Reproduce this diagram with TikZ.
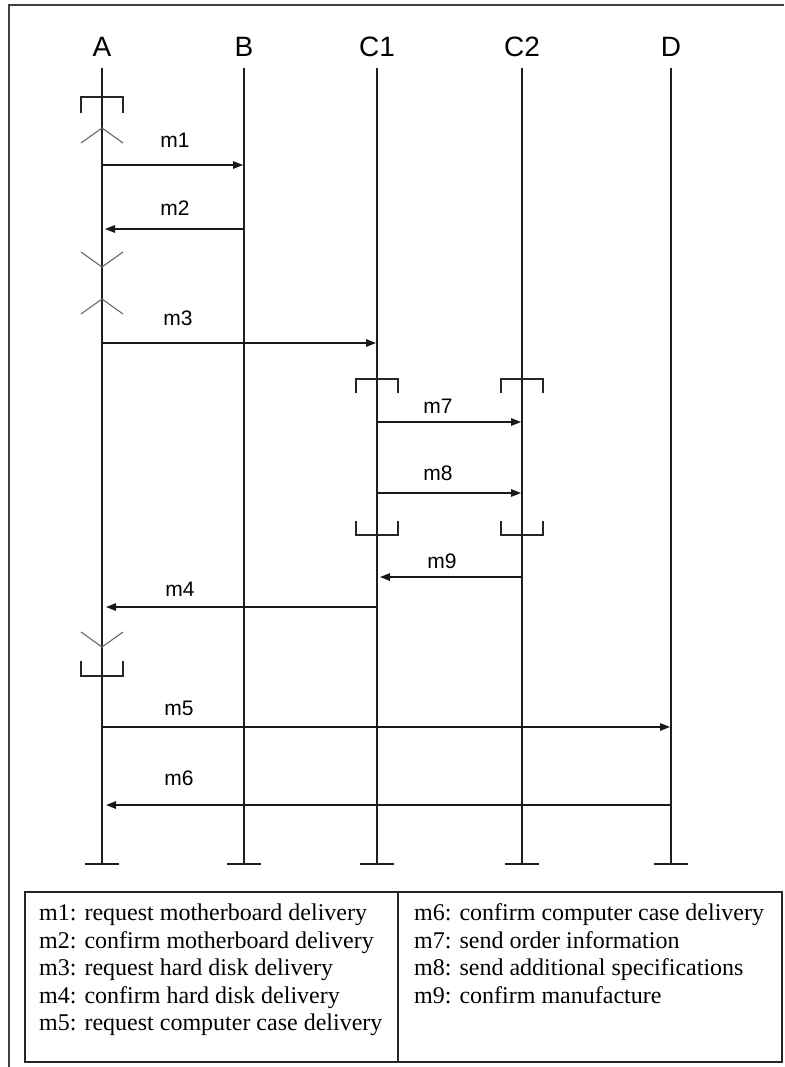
\documentclass[tikz,border=0pt]{standalone}
\usepackage{fontspec}
\setmainfont{Liberation Serif}
\newfontfamily\labfont{Liberation Sans}
\usetikzlibrary{arrows.meta}
\begin{document}
\begin{tikzpicture}[x=1pt,y=-1pt,
  frame/.style={line width=2pt, black!75},
  life/.style={line width=1.6pt, black!88},
  msg/.style={line width=1.4pt, black!90, -{Triangle[length=10pt,width=7.5pt]}, shorten >=1pt},
  head/.style={font=\labfont\fontsize{28}{30}\selectfont, inner sep=0pt},
  mlab/.style={font=\labfont\fontsize{21}{24}\selectfont, inner sep=0pt},
  bracket/.style={line width=1.3pt, black!85},
  chevron/.style={line width=1.1pt, black!60},
  legtext/.style={font=\fontsize{24}{26}\selectfont, inner sep=0pt, anchor=base west},
  legbox/.style={line width=1.6pt, black!85}
]
\useasboundingbox (0,0) rectangle (784,1067);
\draw[frame] (9,1067) -- (9,5) -- (784,5);

% lifelines
\foreach \n/\x/\lab in {A/102/A, B/244/B, C1/377/C1, C2/522/C2, D/671/D}{
  \node[head] (h\n) at (\x,47) {\lab};
  \coordinate (\n-top) at (\x,68);
  \coordinate (\n-bot) at (\x,864);
  \draw[life] (\n-top) -- (\n-bot);
  \draw[life] ([xshift=-17pt]\n-bot) -- ([xshift=17pt]\n-bot);
}

% message end points
\coordinate (A1) at (102,165);  \coordinate (B1) at (244,165);
\coordinate (A2) at (102,229);  \coordinate (B2) at (244,229);
\coordinate (A3) at (102,343);  \coordinate (C13) at (377,343);
\coordinate (C17) at (377,422); \coordinate (C27) at (522,422);
\coordinate (C18) at (377,493); \coordinate (C28) at (522,493);
\coordinate (C19) at (377,577); \coordinate (C29) at (522,577);
\coordinate (A4) at (102,607);  \coordinate (C14) at (377,607);
\coordinate (A5) at (102,727);  \coordinate (D5) at (671,727);
\coordinate (A6) at (102,805);  \coordinate (D6) at (671,805);

\draw[msg] (A1) -- (B1);
\draw[msg, shorten >=3pt] (B2) -- (A2);
\draw[msg] (A3) -- (C13);
\draw[msg] (C17) -- (C27);
\draw[msg] (C18) -- (C28);
\draw[msg, shorten >=3pt] (C29) -- (C19);
\draw[msg, shorten >=4pt] (C14) -- (A4);
\draw[msg] (A5) -- (D5);
\draw[msg, shorten >=4pt] (D6) -- (A6);

\node[mlab] (l1) at (175,140) {m1};
\node[mlab] (l2) at (175,208) {m2};
\node[mlab] (l3) at (178,318) {m3};
\node[mlab] (l7) at (438,406) {m7};
\node[mlab] (l8) at (438,473) {m8};
\node[mlab] (l9) at (442,561) {m9};
\node[mlab] (l4) at (180,589) {m4};
\node[mlab] (l5) at (179,708) {m5};
\node[mlab] (l6) at (179,778) {m6};

% activation brackets and chevrons on A
\draw[bracket] (81,113) -- (81,97) -- (123,97) -- (123,113);
\draw[chevron] (81,143) -- (102,128) -- (123,143);
\draw[chevron] (81,252) -- (102,267) -- (123,252);
\draw[chevron] (81,314) -- (102,299) -- (123,314);
\draw[chevron] (81,632) -- (102,647) -- (123,632);
\draw[bracket] (81,661) -- (81,676) -- (123,676) -- (123,661);

% brackets on C1 and C2
\draw[bracket] (356,393) -- (356,379) -- (398,379) -- (398,393);
\draw[bracket] (501,393) -- (501,379) -- (543,379) -- (543,393);
\draw[bracket] (356,521) -- (356,535) -- (398,535) -- (398,521);
\draw[bracket] (501,521) -- (501,535) -- (543,535) -- (543,521);

% legend
\draw[legbox] (25,892) rectangle (782,1062);
\draw[legbox] (398,892) -- (398,1062);
\node[legtext] (t1) at (39,920) {m1: request motherboard delivery};
\node[legtext] (t2) at (39,948) {m2: confirm motherboard delivery};
\node[legtext] (t3) at (39,975) {m3: request hard disk delivery};
\node[legtext] (t4) at (39,1003) {m4: confirm hard disk delivery};
\node[legtext] (t5) at (39,1030) {m5: request computer case delivery};
\node[legtext] (t6) at (414,920) {m6: confirm computer case delivery};
\node[legtext] (t7) at (414,948) {m7: send order information};
\node[legtext] (t8) at (414,975) {m8: send additional specifications};
\node[legtext] (t9) at (414,1003) {m9: confirm manufacture};
\end{tikzpicture}
\end{document}
